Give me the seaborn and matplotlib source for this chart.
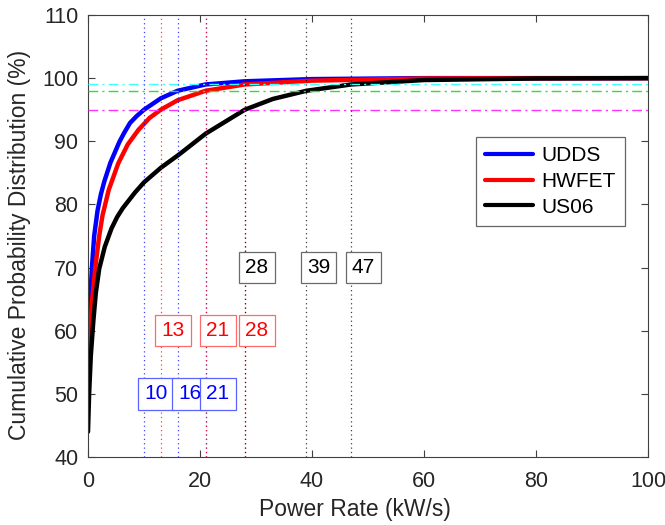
import numpy as np
import pandas as pd
import matplotlib
matplotlib.use("Agg")
import matplotlib.pyplot as plt
import seaborn as sns
from matplotlib.lines import Line2D

# ---- data ----
udds_x = [0, 0.15, 0.4, 0.7, 1.1, 1.7, 2.3, 2.9, 4.0, 5.6, 6.5, 7.5, 8.7, 10, 13, 16, 21, 28, 40, 60, 100]
udds_y = [50, 58, 65, 70, 75, 79, 81.6, 83.6, 86.6, 89.9, 91.4, 92.9, 94.0, 95, 96.8, 98, 99, 99.5, 99.85, 100, 100]

hwfet_x = [0, 0.15, 0.4, 0.7, 1.3, 2.0, 2.6, 3.7, 5.4, 7.1, 9, 11, 13, 16, 21, 28, 40, 60, 100]
hwfet_y = [50, 55, 60, 64.5, 70, 75, 78.3, 82.3, 86.5, 89.5, 91.8, 93.7, 95, 96.5, 98, 99, 99.6, 99.95, 100]

us06_x = [0, 0.2, 0.5, 0.95, 1.4, 2.0, 3.0, 4.2, 5.2, 6.2, 8.4, 10, 13, 16.4, 21, 28, 33, 39, 47, 60, 80, 100]
us06_y = [44, 50, 56, 61.5, 66, 69.8, 73.3, 76.2, 78.0, 79.4, 81.9, 83.5, 85.8, 88, 91.2, 95, 96.7, 98, 99, 99.7, 99.95, 100]

cycles = ["UDDS", "HWFET", "US06"]
cycle_colors = ["#0000ff", "#ff0000", "#000000"]

# percentile reference levels
h_levels = [99, 98, 95]
h_colors = ["#40ffff", "#33dd33", "#ff33ff"]

# quantile positions per cycle (95%, 98%, 99%)
udds_q = [10, 16, 21]
hwfet_q = [13, 21, 28]
us06_q = [28, 39, 47]
label_y = [50, 60, 70]

xticks = [0, 20, 40, 60, 80, 100]
yticks = [40, 50, 60, 70, 80, 90, 100, 110]

# ---- build dataframe ----
frames = []
for name, xs, ys in zip(cycles, [udds_x, hwfet_x, us06_x], [udds_y, hwfet_y, us06_y]):
    frames.append(pd.DataFrame({"x": xs, "y": ys, "cycle": name}))
df = pd.concat(frames, ignore_index=True)

sns.set_style("white")
plt.rcParams["font.family"] = ["Liberation Sans", "DejaVu Sans"]

fig = plt.figure(figsize=(6.65, 5.25), dpi=100)
ax = fig.add_axes([88 / 665, 1 - 457 / 525, 560 / 665, 442 / 525])

sns.lineplot(data=df, x="x", y="y", hue="cycle", hue_order=cycles,
             palette=dict(zip(cycles, cycle_colors)), linewidth=3.2,
             estimator=None, sort=False, ax=ax, zorder=2, legend=False)

# horizontal dash-dot lines
for lvl, c in zip(h_levels, h_colors):
    ax.axhline(lvl, color=c, lw=1.0, ls=(0, (7, 3, 1.5, 3)), zorder=3)

# vertical dotted lines
for qs, c in zip([udds_q, hwfet_q, us06_q], cycle_colors):
    for q in qs:
        ax.axvline(q, color=c, lw=0.9, ls=(0, (1, 2.5)), alpha=0.75, zorder=3)

# labels in boxes
edge_cols = ["#5a64ff", "#ff6a6a", "#6a6a6a"]
for qs, c, ec, ly in zip([udds_q, hwfet_q, us06_q], cycle_colors, edge_cols, label_y):
    for q in qs:
        ax.text(q + 0.1, ly, f"{q}", color=c, fontsize=15, ha="left", va="center",
                zorder=5,
                bbox=dict(boxstyle="square,pad=0.3", fc="white", ec=ec, lw=0.9))

ax.set_xlim(0, 100)
ax.set_ylim(40, 110)
ax.set_xticks(xticks)
ax.set_yticks(yticks)
ax.tick_params(direction="in", length=5, width=0.8, colors="#404040",
               labelcolor="#262626", labelsize=15.5, top=True, right=True,
               bottom=True, left=True, pad=7)
ax.tick_params(axis="x", pad=10)
for s in ax.spines.values():
    s.set_color("#404040")
    s.set_linewidth(0.8)
    s.set_visible(True)

ax.set_xlabel("Power Rate (kW/s)", fontsize=16.5, color="#262626")
ax.set_ylabel("Cumulative Probability Distribution (%)", fontsize=16.5,
              color="#262626")
ax.xaxis.set_label_coords(0.477, -0.093)
ax.yaxis.set_label_coords(-0.102, 0.48)

handles = [Line2D([0], [0], color=c, lw=3) for c in cycle_colors]
leg = ax.legend(handles, cycles, loc="upper left", bbox_to_anchor=(0.693, 0.724),
                fontsize=15, frameon=True, fancybox=False, handlelength=2.3,
                labelspacing=0.32, borderpad=0.45, handletextpad=0.4,
                borderaxespad=0)
leg.get_frame().set_edgecolor("#404040")
leg.get_frame().set_linewidth(0.9)
for t in leg.get_texts():
    t.set_color("#000000")

fig.savefig("out.png", dpi=100)
